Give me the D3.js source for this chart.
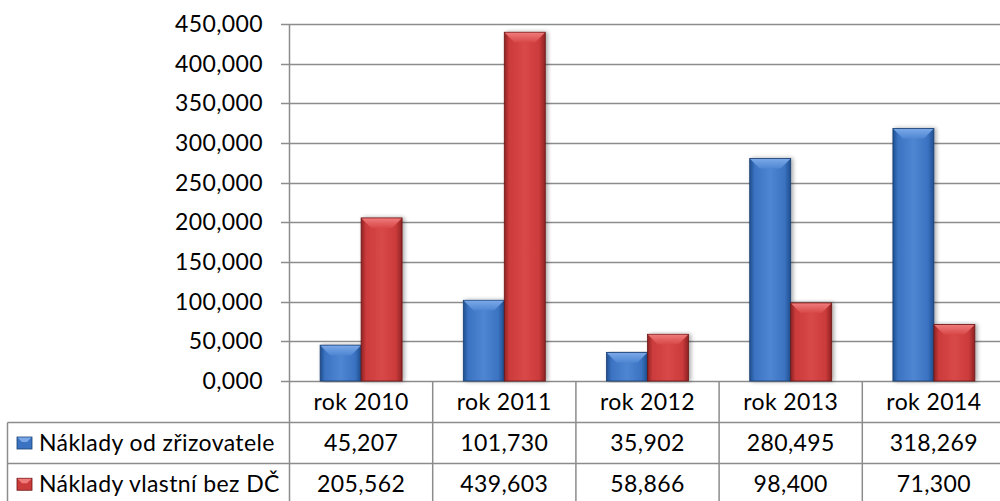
<!DOCTYPE html>
<html><head><meta charset="utf-8">
<script src="https://cdn.jsdelivr.net/npm/d3@7"></script>
<style>html,body{margin:0;padding:0;background:#fff;overflow:hidden}svg{display:block}text{letter-spacing:0.4px}</style>
</head><body>
<svg id="c" width="1000" height="501"></svg>
<script>
const categories = ["rok 2010","rok 2011","rok 2012","rok 2013","rok 2014"];
const seriesNames = ["Náklady od zřizovatele","Náklady vlastní bez DČ"];
const zrizovatel = [45.207,101.730,35.902,280.495,318.269];
const vlastni = [205.562,439.603,58.866,98.400,71.300];
const yTicks = [0,50,100,150,200,250,300,350,400,450];

const series = [
  {name: seriesNames[0], values: zrizovatel, key:"b"},
  {name: seriesNames[1], values: vlastni, key:"r"}
];
const loc = d3.formatLocale({decimal:",", thousands:" ", grouping:[3], currency:["",""]});
const fmt = loc.format(".3f");

const svg = d3.select("#c");
const FONT = "Lato, 'Open Sans', sans-serif";
const FS = 23;
const GRID = "#8c8c8c";
const x0 = 289.5, plotW = 716;
const yTop = 24, yBot = 381;
const rowH = [381, 422.5, 463.5, 505];

const x = d3.scaleBand().domain(categories).range([x0, x0+plotW]).paddingInner(0.4276).paddingOuter(0.2138);
const step = x.step();
const xs = d3.scaleBand().domain(["b","r"]).range([0, x.bandwidth()]);
const y = d3.scaleLinear().domain([0,450]).range([yBot, yTop]);

const defs = svg.append("defs");
const pal = {
  b: {dark:"#1f4f8f", mid:"#3b73c2", light:"#4f86d2", top:"#7aa8e8", edge:"#183f73"},
  r: {dark:"#8e2323", mid:"#cc3b3b", light:"#d84848", top:"#ef7a7a", edge:"#6d1616"}
};
for (const k of ["b","r"]) {
  const g = defs.append("linearGradient").attr("id","g"+k).attr("x1","0").attr("x2","1").attr("y1","0").attr("y2","0");
  g.append("stop").attr("offset","0").attr("stop-color",pal[k].dark);
  g.append("stop").attr("offset","0.12").attr("stop-color",pal[k].mid);
  g.append("stop").attr("offset","0.5").attr("stop-color",pal[k].light);
  g.append("stop").attr("offset","0.85").attr("stop-color",pal[k].mid);
  g.append("stop").attr("offset","1").attr("stop-color",pal[k].dark);
  const t = defs.append("linearGradient").attr("id","t"+k).attr("x1","0").attr("x2","0").attr("y1","0").attr("y2","1");
  t.append("stop").attr("offset","0").attr("stop-color",pal[k].top);
  t.append("stop").attr("offset","1").attr("stop-color",pal[k].light);
}
const shadow = defs.append("filter").attr("id","sh").attr("x","-20%").attr("y","-5%").attr("width","150%").attr("height","110%");
shadow.append("feGaussianBlur").attr("in","SourceAlpha").attr("stdDeviation","2");
shadow.append("feOffset").attr("dx","2").attr("dy","0").attr("result","o");
shadow.append("feComponentTransfer").append("feFuncA").attr("type","linear").attr("slope","0.35");
const m = shadow.append("feMerge"); m.append("feMergeNode"); m.append("feMergeNode").attr("in","SourceGraphic");

// gridlines
svg.append("g").selectAll("line").data(yTicks).join("line")
  .attr("x1", x0-8.5).attr("x2", 1000)
  .attr("y1", d=>Math.round(y(d))+0.5).attr("y2", d=>Math.round(y(d))+0.5)
  .attr("stroke", GRID).attr("stroke-width", 1.5);
// y labels
svg.append("g").selectAll("text").data(yTicks).join("text")
  .attr("x", 263).attr("y", d=>y(d)).attr("dy","0.35em").attr("text-anchor","end")
  .attr("font-family",FONT).attr("font-size",FS).attr("fill","#000").text(d=>fmt(d));

// bars
const bars = svg.append("g");
series.forEach(s=>{
  s.values.forEach((v,i)=>{
    const bx = x(categories[i]) + xs(s.key), bw = xs.bandwidth();
    const by = y(v), bh = y(0)-y(v);
    const g = bars.append("g").attr("filter","url(#sh)");
    g.append("rect").attr("x",bx).attr("y",by).attr("width",bw).attr("height",bh)
      .attr("fill","url(#g"+s.key+")").attr("stroke",pal[s.key].edge).attr("stroke-width",0.8);
    const bev = Math.min(10, bh/2);
    g.append("path").attr("d",`M${bx+0.5},${by+0.5}L${bx+bw-0.5},${by+0.5}L${bx+bw-bev},${by+bev}L${bx+bev},${by+bev}Z`)
      .attr("fill","url(#t"+s.key+")");
  });
});

// axis line and tables
const grid = svg.append("g").attr("stroke",GRID).attr("stroke-width",1.5);
grid.append("line").attr("x1",x0).attr("x2",x0).attr("y1",yTop).attr("y2",505);
const bounds = categories.map(c=>x(c) - x.paddingOuter()*step);
bounds.slice(1).forEach(b=>grid.append("line").attr("x1",b).attr("x2",b).attr("y1",yBot).attr("y2",505));
[rowH[1], rowH[2]].forEach(r=>grid.append("line").attr("x1",7.5).attr("x2",1000).attr("y1",r).attr("y2",r));
grid.append("line").attr("x1",7.5).attr("x2",7.5).attr("y1",rowH[1]).attr("y2",505);

// header
svg.append("g").selectAll("text").data(categories).join("text")
  .attr("x", d=>x(d)+x.bandwidth()/2).attr("y", (rowH[0]+rowH[1])/2).attr("dy","0.35em")
  .attr("text-anchor","middle").attr("font-family",FONT).attr("font-size",FS).text(d=>d);
// rows
series.forEach((s,si)=>{
  const cy = (rowH[si+1]+rowH[si+2])/2;
  svg.append("g").selectAll("text").data(s.values).join("text")
    .attr("x",(d,i)=>x(categories[i])+x.bandwidth()/2).attr("y",cy).attr("dy","0.35em")
    .attr("text-anchor","middle").attr("font-family",FONT).attr("font-size",FS).text(d=>fmt(d));
  const lg = svg.append("g");
  lg.append("rect").attr("x",17).attr("y",cy-6).attr("width",15).attr("height",12)
    .attr("fill",pal[s.key].mid).attr("stroke",pal[s.key].edge).attr("stroke-width",0.8);
  lg.append("path").attr("d",`M17.5,${cy-5.5}L31.5,${cy-5.5}L27,${cy-1}L22,${cy-1}Z`).attr("fill",pal[s.key].top);
  lg.append("text").attr("x",39).attr("y",cy).attr("dy","0.35em").attr("font-family",FONT).attr("font-size",FS).text(s.name);
});
</script>
</body></html>
